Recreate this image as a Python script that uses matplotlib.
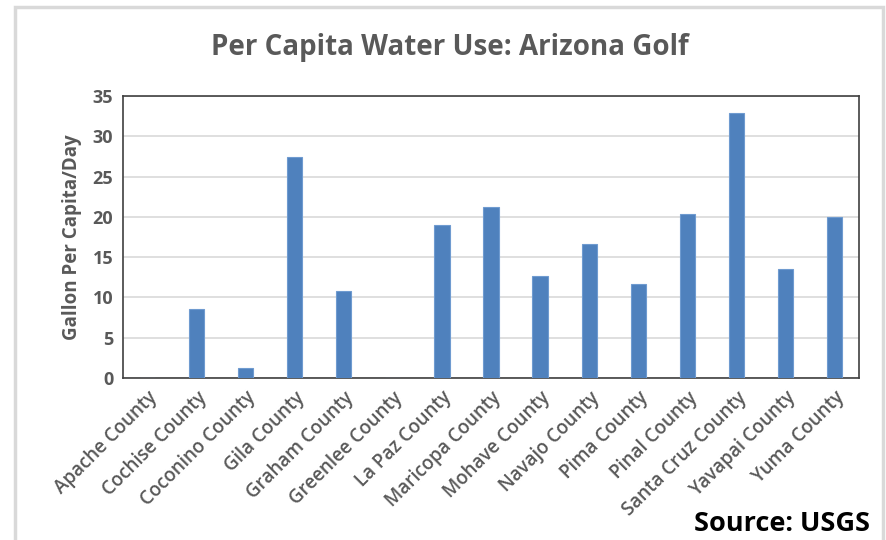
import matplotlib.pyplot as plt
from matplotlib.patches import Rectangle

counties = ["Apache County", "Cochise County", "Coconino County", "Gila County",
            "Graham County", "Greenlee County", "La Paz County", "Maricopa County",
            "Mohave County", "Navajo County", "Pima County", "Pinal County",
            "Santa Cruz County", "Yavapai County", "Yuma County"]
gallons = [0, 8.6, 1.2, 27.4, 10.8, 0, 19.0, 21.2, 12.7, 16.6, 11.7, 20.3, 32.9, 13.5, 20.0]
yticks = [0, 5, 10, 15, 20, 25, 30, 35]

plt.rcParams['font.family'] = ['Open Sans', 'DejaVu Sans']
gray = "#595959"

fig = plt.figure(figsize=(8.86, 5.4), dpi=100)
fig.patches.append(Rectangle((15/886, -0.05), 868/886, 1.05 - 7/540,
                             transform=fig.transFigure, fill=False,
                             edgecolor="#d9d9d9", linewidth=2.5))

ax = fig.add_axes([123/886, 1 - 378/540, 736/886, 282/540])
x = range(len(counties))
ax.bar(x, gallons, width=0.31, color="#4f81bd", edgecolor="#6f9bd0", linewidth=0.8, zorder=3)
ax.set_xlim(-0.5, len(counties) - 0.5)
ax.set_ylim(0, 35)
ax.set_yticks(yticks)
ax.set_yticklabels([str(t) for t in yticks], fontsize=13, fontweight='bold', color=gray)
ax.set_xticks(list(x))
ax.set_xticklabels(counties, rotation=45, ha='right', rotation_mode='anchor',
                   fontsize=13.5, fontweight='semibold', color=gray)
ax.tick_params(axis='both', length=0, pad=7)
ax.grid(axis='y', color="#d9d9d9", linewidth=1.2, zorder=0)
for s in ax.spines.values():
    s.set_color("#404040")
    s.set_linewidth(1.2)
ax.set_ylabel("Gallon Per Capita/Day", fontsize=13.5, fontweight='bold', color=gray, labelpad=8)

fig.text(450/886, 1 - 47/540, "Per Capita Water Use: Arizona Golf", ha='center', va='center',
         fontsize=20, fontweight='bold', color=gray)
fig.text(870/886, 1 - 524/540, "Source: USGS", ha='right', va='center',
         fontsize=19.5, fontweight='bold', color="black")

fig.savefig("out.png", dpi=100)
